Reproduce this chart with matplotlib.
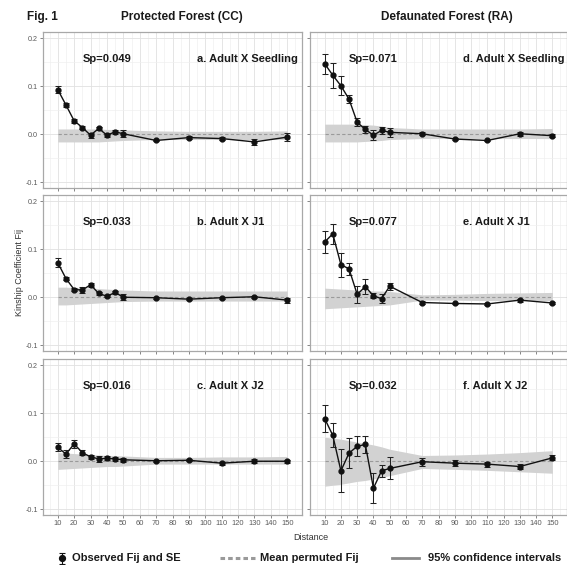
import matplotlib
matplotlib.use("Agg")
import matplotlib.pyplot as plt
from matplotlib.ticker import MultipleLocator

plt.rcParams['font.family'] = ['Liberation Sans', 'DejaVu Sans']

# ---------------- data ----------------
distance = [10, 15, 20, 25, 30, 35, 40, 45, 50, 70, 90, 110, 130, 150]
x_ticks = [10, 20, 30, 40, 50, 60, 70, 80, 90, 100, 110, 120, 130, 140, 150]
y_ticks = [-0.1, 0.0, 0.1, 0.2]
y_tick_labels = ["-0.1", "0.0", "0.1", "0.2"]

col_titles = ["Protected Forest (CC)", "Defaunated Forest (RA)"]
panel_labels = ["a. Adult X Seedling", "b. Adult X J1", "c. Adult X J2",
                "d. Adult X Seedling", "e. Adult X J1", "f. Adult X J2"]
sp_labels = ["Sp=0.049", "Sp=0.033", "Sp=0.016",
             "Sp=0.071", "Sp=0.077", "Sp=0.032"]

fij_a = [0.093, 0.061, 0.028, 0.014, -0.002, 0.012, -0.002, 0.005, 0.001, -0.013, -0.007, -0.009, -0.016, -0.006]
se_a = [0.008, 0.005, 0.004, 0.003, 0.005, 0.003, 0.003, 0.004, 0.007, 0.002, 0.003, 0.003, 0.006, 0.008]
up_a = [0.011, 0.011, 0.011, 0.011, 0.011, 0.011, 0.010, 0.010, 0.009, 0.007, 0.006, 0.006, 0.006, 0.007]
lo_a = [-0.016, -0.016, -0.016, -0.016, -0.016, -0.016, -0.015, -0.014, -0.013, -0.011, -0.011, -0.011, -0.011, -0.011]

fij_b = [0.072, 0.039, 0.016, 0.015, 0.026, 0.008, 0.002, 0.010, 0.000, -0.001, -0.004, -0.001, 0.001, -0.006]
se_b = [0.009, 0.004, 0.004, 0.006, 0.004, 0.003, 0.002, 0.004, 0.006, 0.002, 0.002, 0.002, 0.002, 0.005]
up_b = [0.021, 0.021, 0.020, 0.020, 0.019, 0.018, 0.017, 0.016, 0.015, 0.013, 0.013, 0.013, 0.013, 0.013]
lo_b = [-0.016, -0.016, -0.015, -0.014, -0.013, -0.012, -0.011, -0.010, -0.009, -0.008, -0.008, -0.008, -0.008, -0.008]

fij_c = [0.029, 0.015, 0.036, 0.018, 0.009, 0.005, 0.006, 0.005, 0.003, 0.001, 0.002, -0.004, 0.000, 0.000]
se_c = [0.008, 0.009, 0.008, 0.005, 0.004, 0.006, 0.004, 0.004, 0.004, 0.002, 0.002, 0.003, 0.004, 0.003]
up_c = [0.018, 0.017, 0.016, 0.015, 0.014, 0.013, 0.012, 0.012, 0.011, 0.008, 0.008, 0.009, 0.009, 0.010]
lo_c = [-0.017, -0.016, -0.015, -0.014, -0.013, -0.012, -0.011, -0.011, -0.010, -0.006, -0.006, -0.006, -0.006, -0.006]

fij_d = [0.147, 0.123, 0.101, 0.073, 0.025, 0.010, -0.002, 0.008, 0.004, 0.001, -0.010, -0.013, 0.001, -0.003]
se_d = [0.021, 0.026, 0.020, 0.008, 0.008, 0.008, 0.010, 0.007, 0.009, 0.003, 0.002, 0.002, 0.004, 0.003]
up_d = [0.021, 0.021, 0.021, 0.021, 0.021, 0.020, 0.019, 0.017, 0.014, 0.011, 0.011, 0.011, 0.011, 0.012]
lo_d = [-0.016, -0.016, -0.016, -0.016, -0.016, -0.015, -0.014, -0.013, -0.011, -0.009, -0.009, -0.009, -0.009, -0.009]

fij_e = [0.115, 0.132, 0.068, 0.059, 0.006, 0.022, 0.003, -0.003, 0.023, -0.011, -0.013, -0.014, -0.006, -0.012]
se_e = [0.023, 0.021, 0.025, 0.012, 0.017, 0.016, 0.005, 0.009, 0.007, 0.003, 0.002, 0.003, 0.003, 0.003]
up_e = [0.019, 0.018, 0.017, 0.016, 0.015, 0.014, 0.013, 0.013, 0.012, 0.005, 0.006, 0.008, 0.009, 0.010]
lo_e = [-0.024, -0.023, -0.022, -0.021, -0.020, -0.019, -0.018, -0.017, -0.016, -0.006, -0.006, -0.007, -0.007, -0.007]

fij_f = [0.089, 0.054, -0.020, 0.017, 0.031, 0.035, -0.056, -0.020, -0.015, -0.001, -0.004, -0.006, -0.011, 0.007]
se_f = [0.029, 0.025, 0.045, 0.031, 0.021, 0.018, 0.032, 0.013, 0.023, 0.008, 0.006, 0.005, 0.005, 0.005]
up_f = [0.050, 0.048, 0.046, 0.043, 0.040, 0.037, 0.034, 0.030, 0.025, 0.012, 0.013, 0.015, 0.018, 0.022]
lo_f = [-0.052, -0.050, -0.048, -0.045, -0.042, -0.040, -0.037, -0.034, -0.030, -0.015, -0.017, -0.019, -0.022, -0.025]

mean_perm = [0.0] * len(distance)

panels = [
    (fij_a, se_a, up_a, lo_a), (fij_b, se_b, up_b, lo_b), (fij_c, se_c, up_c, lo_c),
    (fij_d, se_d, up_d, lo_d), (fij_e, se_e, up_e, lo_e), (fij_f, se_f, up_f, lo_f),
]

# ---------------- layout ----------------
W, H = 567, 565
fig = plt.figure(figsize=(W / 100, H / 100), dpi=100)
fig.patch.set_facecolor("white")

col_x = [(43, 302), (310, 567)]
row_y = [(32, 188), (195, 351), (359, 515)]


def fx(px):
    return px / W


def fy(py):
    return 1 - py / H


for ci in range(2):
    for ri in range(3):
        k = ci * 3 + ri
        fij, se, up, lo = panels[k]
        x0, x1 = col_x[ci]
        y0, y1 = row_y[ri]
        ax = fig.add_axes([fx(x0), fy(y1), (x1 - x0) / W, (y1 - y0) / H])
        ax.set_xlim(1, 159)
        ax.set_ylim(-0.112, 0.213)
        ax.set_xticks(x_ticks)
        ax.xaxis.set_minor_locator(MultipleLocator(5))
        ax.set_yticks(y_ticks)
        ax.yaxis.set_minor_locator(MultipleLocator(0.05))
        ax.grid(which="major", color="#e1e1e1", lw=0.6, zorder=0)
        ax.grid(which="minor", color="#efefef", lw=0.45, zorder=0)
        ax.set_axisbelow(True)
        for s in ax.spines.values():
            s.set_color("#a8a8a8")
            s.set_linewidth(0.9)
        ax.tick_params(which="major", length=2, width=0.5, color="#555555",
                       labelcolor="#5a5a5a", pad=1.5)
        ax.tick_params(which="minor", length=0)
        ax.tick_params(axis="x", labelsize=5.4)
        ax.tick_params(axis="y", labelsize=5.2)
        if ri < 2:
            ax.set_xticklabels([])
        if ci == 1:
            ax.set_yticklabels([])
        else:
            ax.set_yticklabels(y_tick_labels)

        ax.fill_between(distance, lo, up, color="#d2d2d2", lw=0, zorder=1)
        ax.plot(distance, mean_perm, color="#9a9a9a", lw=0.8, dashes=(3, 2), zorder=2)
        ax.errorbar(distance, fij, yerr=se, fmt="o-", color="#111111", ms=3.5,
                    lw=1.0, elinewidth=0.75, capsize=2, capthick=0.75,
                    ecolor="#222222", zorder=3)

        ax.text(25, 0.156, sp_labels[k], fontsize=8, fontweight="bold",
                ha="left", va="center", color="#1a1a1a")
        ax.text(95, 0.156, panel_labels[k], fontsize=8, fontweight="bold",
                ha="left", va="center", color="#1a1a1a")

# titles
fig.text(fx(27), fy(17), "Fig. 1", fontsize=8.5, fontweight="bold", ha="left", va="center", color="#1a1a1a")
fig.text(fx(182), fy(17), col_titles[0], fontsize=8.5, fontweight="bold", ha="center", va="center", color="#1a1a1a")
fig.text(fx(447), fy(17), col_titles[1], fontsize=8.5, fontweight="bold", ha="center", va="center", color="#1a1a1a")
fig.text(fx(20), fy(272), "Kinship Coefficient Fij", fontsize=6.5, rotation=90,
         ha="center", va="center", color="#333333")
fig.text(fx(311), fy(537), "Distance", fontsize=6.5, ha="center", va="center", color="#333333")

# legend (manual)
lax = fig.add_axes([0, 0, 1, 1], facecolor="none")
lax.set_xlim(0, W)
lax.set_ylim(H, 0)
lax.axis("off")
lax.errorbar([62], [558], yerr=[[5.5]], fmt="o", color="#111111", ms=4.2,
             elinewidth=0.8, capsize=2.5, capthick=0.8)
lax.text(72, 558, "Observed Fij and SE", fontsize=8, fontweight="bold", ha="left", va="center", color="#1a1a1a")
lax.plot([220, 255], [558, 558], color="#9a9a9a", lw=2.2, dashes=(1.5, 1))
lax.text(260, 558, "Mean permuted Fij", fontsize=8, fontweight="bold", ha="left", va="center", color="#1a1a1a")
lax.plot([392, 419], [558, 558], color="#8a8a8a", lw=2.0)
lax.text(428, 558, "95% confidence intervals", fontsize=8, fontweight="bold", ha="left", va="center", color="#1a1a1a")

fig.savefig("out.png", dpi=100, facecolor="white")
